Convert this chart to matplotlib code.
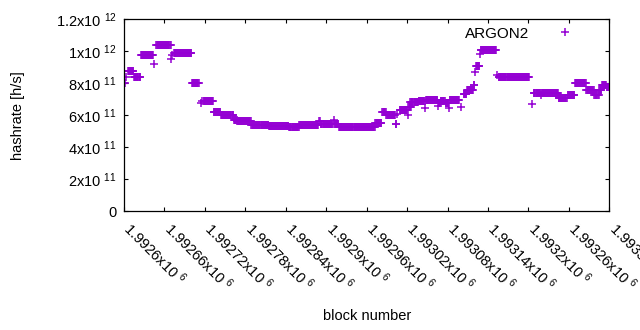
import numpy as np
import matplotlib
matplotlib.use("Agg")
import matplotlib.pyplot as plt
from matplotlib.transforms import ScaledTranslation

plt.rcParams['font.family'] = ['Liberation Sans', 'DejaVu Sans']
plt.rcParams['mathtext.fontset'] = 'custom'
plt.rcParams['mathtext.rm'] = 'Liberation Sans'
plt.rcParams['mathtext.it'] = 'Liberation Sans:italic'
plt.rcParams['mathtext.default'] = 'regular'

# ---- data ----
base_block = 1992600
# runs of blocks with constant estimated hashrate: [start, end) offsets from base_block
run_start = [0, 3, 6, 15, 25, 45, 48, 70, 71, 74, 101, 114, 115, 118, 133, 144, 163, 168,
             189, 215, 245, 260, 290, 292, 311, 312, 319, 373, 383, 389, 403, 405, 409, 421,
             422, 425, 437, 447, 448, 466, 467, 470, 477, 482, 483, 500, 504, 509, 519, 521,
             522, 528, 529, 553, 556, 605, 608, 619, 620, 645, 658, 669, 686, 698, 705, 709, 716]
run_end = [2, 4, 15, 25, 44, 46, 70, 71, 72, 101, 112, 115, 116, 133, 144, 163, 168, 189,
           215, 245, 260, 289, 292, 310, 312, 319, 373, 383, 389, 403, 405, 406, 421, 422,
           427, 437, 447, 448, 466, 467, 470, 477, 482, 483, 498, 501, 509, 519, 521, 522,
           528, 529, 553, 554, 602, 606, 619, 620, 645, 658, 669, 686, 698, 705, 709, 716, 721]
run_rate = [8.04, 8.4, 8.75, 8.4, 9.8, 9.2, 10.4, 9.55, 9.75, 9.9, 8.0, 6.8, 6.9, 6.9, 6.23,
            6.0, 5.7, 5.63, 5.42, 5.36, 5.25, 5.42, 5.65, 5.48, 5.69, 5.48, 5.27, 5.52, 6.2,
            6.04, 5.44, 6.1, 6.36, 6.04, 6.52, 6.83, 6.87, 6.48, 6.94, 6.6, 6.77, 6.87, 6.77,
            6.48, 6.98, 6.52, 7.31, 7.56, 7.88, 8.7, 9.1, 9.85, 10.06, 8.5, 8.37, 6.73, 7.42,
            7.3, 7.42, 7.1, 7.25, 8.04, 7.58, 7.25, 7.6, 7.875, 7.77]  # x 1e11 h/s

xtick_values = [1992600, 1992660, 1992720, 1992780, 1992840, 1992900, 1992960,
                1993020, 1993080, 1993140, 1993200, 1993260, 1993320]
xtick_labels = ['1.9926x10 $^{6}$', '1.99266x10 $^{6}$', '1.99272x10 $^{6}$',
                '1.99278x10 $^{6}$', '1.99284x10 $^{6}$', '1.9929x10 $^{6}$',
                '1.99296x10 $^{6}$', '1.99302x10 $^{6}$', '1.99308x10 $^{6}$',
                '1.99314x10 $^{6}$', '1.9932x10 $^{6}$', '1.99326x10 $^{6}$',
                '1.99332x10 $^{6}$']
ytick_values = [0, 2e11, 4e11, 6e11, 8e11, 1e12, 1.2e12]
ytick_labels = ['0', '2x10 $^{11}$', '4x10 $^{11}$', '6x10 $^{11}$', '8x10 $^{11}$',
                '1x10 $^{12}$', '1.2x10 $^{12}$']

# expand runs into one point per block
blocks = []
rates = []
for s, e, r in zip(run_start, run_end, run_rate):
    for b in range(s, e):
        blocks.append(base_block + b)
        rates.append(r * 1e11)

fig = plt.figure(figsize=(6.4, 3.3), dpi=100)
ax = fig.add_axes([124 / 640, 1 - 211.3 / 330, (609.3 - 124) / 640, (211.3 - 19.3) / 330])

ax.plot(blocks, rates, linestyle='none', marker='+', markersize=5.5, markeredgewidth=1.1,
        color='#9400D3', label='ARGON2')

ax.set_xlim(1992600, 1993320)
ax.set_ylim(0, 1.2e12)

fs = 10.5
ax.set_xticks(xtick_values)
ax.set_xticklabels([])
# rotated tick labels drawn as text, anchored just right/below each tick
lab_tr = ax.get_xaxis_transform() + ScaledTranslation(0.095, -0.075, fig.dpi_scale_trans)
for xv, lab in zip(xtick_values, xtick_labels):
    ax.text(xv, 0, lab, transform=lab_tr, rotation=-45, ha='left', va='top',
            rotation_mode='anchor', fontsize=fs, clip_on=False)

ax.set_yticks(ytick_values)
ax.set_yticklabels(ytick_labels, fontsize=fs)
ax.tick_params(direction='in', length=3, width=0.8, top=True, right=True, colors='black')
ax.tick_params(axis='y', pad=5)
for sp in ax.spines.values():
    sp.set_linewidth(0.9)

ax.set_xlabel('block number', fontsize=fs)
ax.xaxis.set_label_coords(0.5, -0.51)
ax.set_ylabel('hashrate [h/s]', fontsize=fs)
ax.yaxis.set_label_coords(-0.205, 0.5)

leg = ax.legend(loc='upper right', bbox_to_anchor=(0.952, 1.01), frameon=False,
                markerfirst=False, fontsize=11, handlelength=1.5, handletextpad=1.6,
                borderaxespad=0.2)

fig.savefig('out.png', dpi=100)
